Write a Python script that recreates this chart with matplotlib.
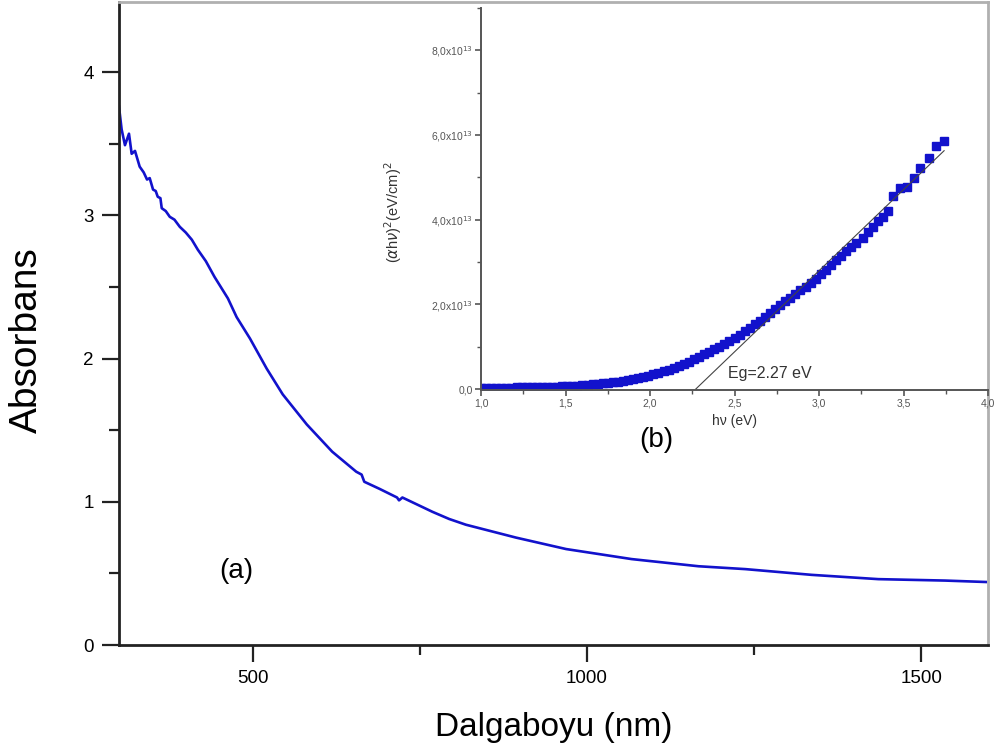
import matplotlib
matplotlib.use('Agg')
import matplotlib.pyplot as plt
from matplotlib.ticker import MultipleLocator

plt.rcParams['font.family'] = ['Liberation Sans', 'DejaVu Sans']

# main curve: absorbance vs wavelength
wavelength = [300, 304, 309, 315, 319, 324, 331, 337, 342, 346, 351, 355, 358, 362,
              364, 370, 376, 383, 391, 400, 409, 418, 430, 443, 463, 476, 496, 521,
              545, 581, 619, 655, 663, 667, 690, 716, 719, 724, 769, 794, 819, 894,
              969, 1067, 1167, 1237, 1336, 1436, 1536, 1597]
absorbance = [3.76, 3.60, 3.49, 3.57, 3.43, 3.45, 3.34, 3.30, 3.25, 3.26, 3.18, 3.17, 3.13, 3.12,
              3.05, 3.03, 2.99, 2.97, 2.92, 2.88, 2.83, 2.76, 2.68, 2.57, 2.42, 2.29, 2.14, 1.93,
              1.75, 1.54, 1.35, 1.21, 1.19, 1.14, 1.09, 1.03, 1.01, 1.03, 0.93, 0.88, 0.84, 0.75,
              0.67, 0.60, 0.55, 0.53, 0.49, 0.46, 0.45, 0.44]

# inset: (alpha h nu)^2 in units of 1e13 vs photon energy
energy = [1.00, 1.03, 1.06, 1.09, 1.12, 1.15, 1.18, 1.21, 1.24, 1.27, 1.30, 1.33, 1.36, 1.39,
          1.42, 1.45, 1.48, 1.51, 1.54, 1.57, 1.60, 1.63, 1.66, 1.69, 1.72, 1.75, 1.78, 1.81,
          1.84, 1.87, 1.90, 1.93, 1.96, 1.99, 2.02, 2.05, 2.08, 2.11, 2.14, 2.17, 2.20, 2.23,
          2.26, 2.29, 2.32, 2.35, 2.38, 2.41, 2.44, 2.47, 2.50, 2.53, 2.56, 2.59, 2.62, 2.65,
          2.68, 2.71, 2.74, 2.77, 2.80, 2.83, 2.86, 2.89, 2.92, 2.95, 2.98, 3.01, 3.04, 3.07,
          3.10, 3.13, 3.16, 3.19, 3.22, 3.26, 3.29, 3.32, 3.35, 3.38, 3.41, 3.44, 3.48, 3.52,
          3.56, 3.60, 3.65, 3.69, 3.74]
ahv2 = [0.03, 0.03, 0.03, 0.03, 0.03, 0.035, 0.035, 0.04, 0.04, 0.04, 0.045, 0.045, 0.05, 0.05,
        0.055, 0.06, 0.065, 0.07, 0.075, 0.08, 0.09, 0.10, 0.11, 0.12, 0.135, 0.15, 0.165, 0.18,
        0.20, 0.22, 0.24, 0.265, 0.29, 0.32, 0.35, 0.38, 0.42, 0.46, 0.50, 0.55, 0.60, 0.65,
        0.70, 0.76, 0.82, 0.88, 0.94, 1.00, 1.07, 1.14, 1.21, 1.29, 1.37, 1.45, 1.53, 1.62,
        1.71, 1.80, 1.90, 1.99, 2.07, 2.16, 2.24, 2.33, 2.41, 2.50, 2.60, 2.72, 2.82, 2.93,
        3.05, 3.15, 3.25, 3.35, 3.45, 3.58, 3.70, 3.84, 3.96, 4.06, 4.20, 4.55, 4.74, 4.78,
        4.98, 5.23, 5.45, 5.74, 5.86]
scale = 1e13
ahv2 = [v * scale for v in ahv2]

# Tauc fit line
fit_x = [2.27, 3.74]
fit_y = [0.0, 5.63 * scale]

inset_xticks = [1.0, 1.5, 2.0, 2.5, 3.0, 3.5, 4.0]
inset_xlabels = ['1,0', '1,5', '2,0', '2,5', '3,0', '3,5', '4,0']
inset_yticks = [0, 2e13, 4e13, 6e13, 8e13]
inset_ylabels = ['0,0', r'2,0x10$^{13}$', r'4,0x10$^{13}$', r'6,0x10$^{13}$', r'8,0x10$^{13}$']

blue = '#1212cc'

fig = plt.figure(figsize=(10.03, 7.53), dpi=100)

#main panel
ax = fig.add_axes([0.1186, 0.1434, 0.8664, 0.854])
ax.plot(wavelength, absorbance, color=blue, lw=1.9)
ax.set_xlim(300, 1600)
ax.set_ylim(0, 4.49)
ax.set_xticks([500, 1000, 1500])
ax.xaxis.set_minor_locator(MultipleLocator(250))
ax.set_yticks([0, 1, 2, 3, 4])
ax.yaxis.set_minor_locator(MultipleLocator(0.5))
ax.tick_params(which='major', direction='out', length=12, width=1.6, labelsize=13.5, color='#222222', pad=6)
ax.tick_params(which='minor', direction='out', length=7, width=1.6, color='#222222')
for s in ['left', 'bottom']:
    ax.spines[s].set_linewidth(2)
    ax.spines[s].set_color('#222222')
for s in ['top', 'right']:
    ax.spines[s].set_linewidth(2)
    ax.spines[s].set_color('#b0b0b0')
ax.set_xlabel('Dalgaboyu (nm)', fontsize=24, labelpad=18)
ax.set_ylabel('Absorbans', fontsize=28)
ax.yaxis.set_label_coords(-0.085, 0.474)
ax.text(476, 0.52, '(a)', fontsize=20, ha='center', va='center')

#inset panel
ins = fig.add_axes([0.4796, 0.4821, 0.5055, 0.5073])
ins.plot(energy, ahv2, ls='none', marker='s', ms=5.5, color=blue, mec=blue)
ins.plot(fit_x, fit_y, color='#444444', lw=0.8)
ins.set_xlim(1.0, 4.0)
ins.set_ylim(-0.02e13, 9.0e13)
ins.set_xticks(inset_xticks)
ins.set_xticklabels(inset_xlabels)
ins.set_yticks(inset_yticks)
ins.set_yticklabels(inset_ylabels)
ins.xaxis.set_minor_locator(MultipleLocator(0.25))
ins.yaxis.set_minor_locator(MultipleLocator(1e13))
ins.patch.set_alpha(0)
for s in ['top', 'right']:
    ins.spines[s].set_visible(False)
for s in ['left', 'bottom']:
    ins.spines[s].set_linewidth(1.4)
    ins.spines[s].set_color('#555555')
ins.tick_params(which='major', direction='out', length=4, width=1.2, labelsize=7.5,
                color='#555555', labelcolor='#555555', pad=2)
ins.tick_params(which='minor', direction='out', length=3, width=1.0, color='#555555')
ins.set_xlabel('hν (eV)', fontsize=10, color='#333333', labelpad=4)
ins.set_ylabel(r'($\alpha$h$\nu$)$^2$(eV/cm)$^2$', fontsize=10.5, color='#333333')
ins.yaxis.set_label_coords(-0.152, 0.466)
ins.text(2.46, 0.2e13, 'Eg=2.27 eV', fontsize=11.5, color='#333333', ha='left', va='bottom')
ins.text(2.04, -1.2e13, '(b)', fontsize=20, ha='center', va='center')

fig.savefig('out.png', dpi=100)
